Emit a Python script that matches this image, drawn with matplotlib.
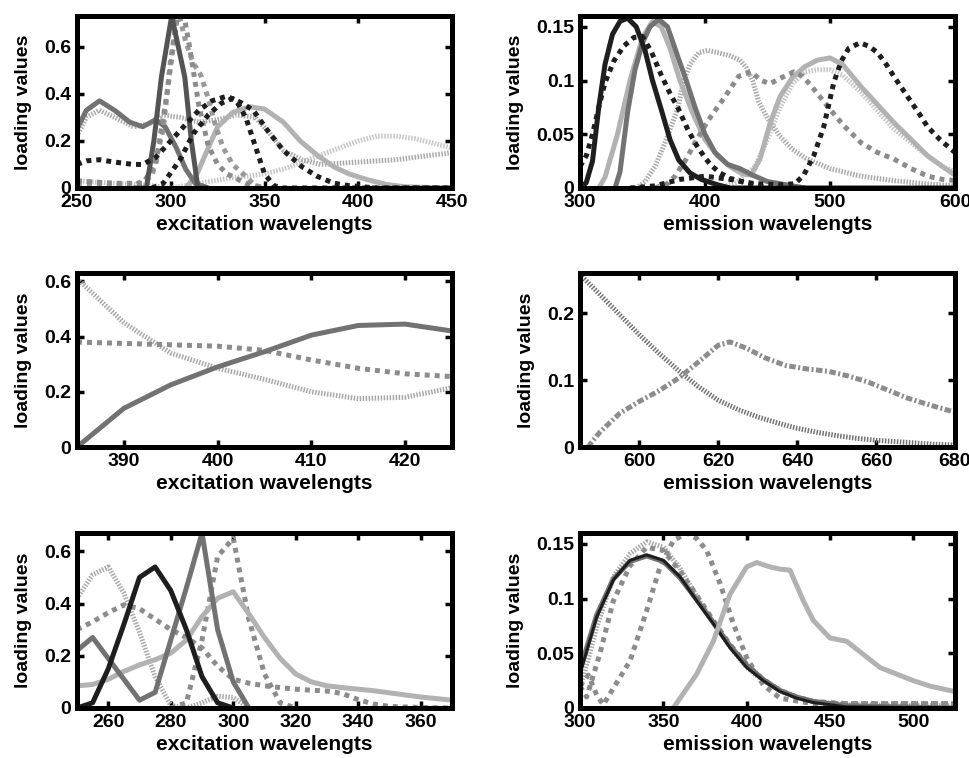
import matplotlib.pyplot as plt
from matplotlib.ticker import FuncFormatter

plt.rcParams['font.family'] = ['Liberation Sans', 'DejaVu Sans']
plt.rcParams['font.weight'] = 'bold'
plt.rcParams['font.size'] = 14

# --- excitation loadings, model 1 (250-450 nm) ---
ex1_a_wl = [250, 255, 262, 270, 278, 285, 292, 297, 303, 308, 313, 320]
ex1_a = [0.25, 0.33, 0.37, 0.33, 0.28, 0.26, 0.29, 0.26, 0.17, 0.08, 0.02, 0.0]
ex1_b_wl = [250, 255, 262, 270, 280, 288, 295, 305, 315, 325, 335, 345, 352, 360, 370, 380, 400, 420, 440, 450]
ex1_b = [0.22, 0.30, 0.33, 0.30, 0.26, 0.27, 0.31, 0.30, 0.28, 0.29, 0.31, 0.30, 0.24, 0.16, 0.12, 0.10, 0.11, 0.12, 0.14, 0.15]
ex1_c_wl = [250, 270, 290, 300, 315, 330, 340, 350, 360, 370, 380, 390, 400, 410, 420, 430, 440, 450]
ex1_c = [0.03, 0.02, 0.01, 0.0, 0.02, 0.04, 0.05, 0.06, 0.08, 0.11, 0.14, 0.17, 0.20, 0.22, 0.22, 0.21, 0.19, 0.17]
ex1_d_wl = [280, 287, 291, 295, 300.5, 304, 307.5, 311, 314.5, 320]
ex1_d = [0.0, 0.0, 0.2, 0.47, 0.73, 0.6, 0.47, 0.2, 0.0, 0.0]
ex1_e_wl = [250, 270, 285, 292, 298, 303, 306, 310, 315, 320, 325, 330, 340, 350]
ex1_e = [0.03, 0.02, 0.02, 0.1, 0.4, 0.7, 0.78, 0.6, 0.35, 0.18, 0.1, 0.06, 0.02, 0.0]
ex1_f_wl = [250, 280, 290, 296, 300, 304, 308, 312, 316, 320, 324, 328, 333, 340, 345, 350]
ex1_f = [0.02, 0.01, 0.05, 0.25, 0.55, 0.75, 0.62, 0.53, 0.48, 0.38, 0.26, 0.17, 0.1, 0.05, 0.01, 0.0]
ex1_g_wl = [250, 255, 262, 270, 280, 285, 292, 300, 308, 315, 322, 330, 335, 340, 345, 350, 355, 360, 450]
ex1_g = [0.1, 0.115, 0.12, 0.11, 0.1, 0.1, 0.13, 0.2, 0.27, 0.33, 0.37, 0.39, 0.37, 0.3, 0.18, 0.06, 0.01, 0.0, 0.0]
ex1_h_wl = [290, 296, 305, 312, 320, 327, 333, 338, 344, 352, 360, 370, 378, 387, 395, 410, 450]
ex1_h = [0.0, 0.02, 0.12, 0.23, 0.31, 0.36, 0.38, 0.36, 0.33, 0.24, 0.16, 0.09, 0.05, 0.02, 0.01, 0.0, 0.0]
ex1_i_wl = [308, 314, 320, 325, 333, 342, 350, 360, 369, 378, 387, 395, 405, 415, 425, 450]
ex1_i = [0.0, 0.06, 0.17, 0.26, 0.32, 0.345, 0.335, 0.28, 0.2, 0.14, 0.09, 0.06, 0.035, 0.015, 0.005, 0.0]

# --- emission loadings, model 1 (300-600 nm) ---
em1_a_wl = [300, 305, 310, 315, 320, 326, 332, 338, 345, 352, 358, 365, 372, 379, 388, 397, 410, 420, 600]
em1_a = [0.0, 0.005, 0.025, 0.075, 0.115, 0.143, 0.155, 0.158, 0.15, 0.128, 0.1, 0.073, 0.045, 0.026, 0.014, 0.008, 0.003, 0.0, 0.0]
em1_b_wl = [328, 332, 338, 344, 350, 356, 363, 370, 378, 385, 392, 400, 408, 418, 428, 438, 450, 470, 480]
em1_b = [0.0, 0.015, 0.07, 0.11, 0.135, 0.15, 0.157, 0.15, 0.123, 0.1, 0.075, 0.05, 0.033, 0.022, 0.018, 0.012, 0.006, 0.002, 0.0]
em1_c_wl = [315, 320, 330, 340, 350, 358, 365, 372, 380, 390, 400, 410, 420, 430, 437, 444, 452, 460, 470,
            480, 490, 500, 510, 525, 540, 551, 565, 578, 590, 600]
em1_c = [0.0, 0.01, 0.05, 0.1, 0.14, 0.155, 0.15, 0.13, 0.1, 0.07, 0.045, 0.03, 0.02, 0.013, 0.012, 0.027, 0.06,
         0.085, 0.103, 0.113, 0.119, 0.121, 0.115, 0.094, 0.075, 0.061, 0.045, 0.03, 0.02, 0.012]
em1_d_wl = [300, 305, 310, 315, 320, 327, 335, 343, 350, 357, 365, 372, 379, 386, 392, 400, 405, 412, 420, 435, 450]
em1_d = [0.02, 0.03, 0.05, 0.075, 0.098, 0.118, 0.132, 0.14, 0.141, 0.127, 0.105, 0.088, 0.073, 0.055, 0.042,
         0.028, 0.021, 0.014, 0.009, 0.004, 0.0]
em1_e_wl = [340, 360, 380, 400, 420, 440, 460, 472, 479, 487, 495, 503, 509, 515, 524, 531, 538, 545, 551, 558,
            565, 572, 578, 588, 597, 600]
em1_e = [0.0, 0.002, 0.008, 0.011, 0.008, 0.004, 0.003, 0.004, 0.012, 0.03, 0.057, 0.098, 0.118, 0.13, 0.135,
         0.132, 0.126, 0.115, 0.104, 0.092, 0.08, 0.068, 0.057, 0.045, 0.036, 0.033]
em1_f_wl = [360, 370, 376, 384, 392, 400, 405, 416, 427, 437, 445, 452, 460, 471, 478, 485, 498, 511, 525, 538,
            551, 565, 578, 590, 600]
em1_f = [0.0, 0.004, 0.011, 0.025, 0.042, 0.058, 0.067, 0.085, 0.104, 0.108, 0.1, 0.097, 0.102, 0.108, 0.104,
         0.095, 0.076, 0.058, 0.042, 0.033, 0.027, 0.018, 0.011, 0.008, 0.007]
em1_g_wl = [345, 352, 360, 368, 378, 383, 388, 395, 402, 410, 420, 428, 433, 438, 443, 450, 460, 470, 480, 500,
            525, 550, 575, 600]
em1_g = [0.0, 0.006, 0.02, 0.042, 0.073, 0.1, 0.115, 0.126, 0.128, 0.126, 0.123, 0.119, 0.112, 0.1, 0.08, 0.065,
         0.048, 0.036, 0.028, 0.018, 0.011, 0.007, 0.004, 0.002]
em1_h_wl = [410, 425, 440, 450, 460, 470, 480, 490, 500, 510, 525, 538, 551, 565, 578, 590, 600]
em1_h = [0.0, 0.005, 0.02, 0.045, 0.075, 0.097, 0.108, 0.11, 0.11, 0.105, 0.089, 0.072, 0.055, 0.042, 0.03,
         0.02, 0.015]

# --- excitation / emission loadings, model 2 ---
ex2_wl = [385, 390, 395, 400, 405, 410, 415, 420, 425]
ex2_a = [0.0, 0.14, 0.225, 0.29, 0.345, 0.405, 0.44, 0.445, 0.42]
ex2_b = [0.38, 0.375, 0.37, 0.365, 0.35, 0.315, 0.285, 0.265, 0.255]
ex2_c = [0.61, 0.45, 0.34, 0.285, 0.245, 0.2, 0.175, 0.18, 0.215]

em2_a_wl = [585, 590, 595, 600, 605, 610, 615, 620, 625, 630, 635, 640, 645, 650, 655, 660, 665, 670, 675, 680]
em2_a = [0.258, 0.228, 0.198, 0.168, 0.14, 0.114, 0.09, 0.07, 0.056, 0.045, 0.036, 0.028, 0.022, 0.017, 0.013,
         0.01, 0.008, 0.006, 0.004, 0.003]
em2_b_wl = [587, 590, 595, 600, 605, 610, 615, 620, 623, 627, 632, 637, 642, 648, 653, 658, 663, 668, 674, 680]
em2_b = [0.0, 0.022, 0.05, 0.068, 0.084, 0.103, 0.127, 0.152, 0.157, 0.148, 0.133, 0.122, 0.117, 0.113, 0.106,
         0.097, 0.085, 0.073, 0.062, 0.052]

# --- excitation loadings, model 3 (250-370 nm) ---
ex3_a_wl = [250, 255, 260, 265, 270, 275, 280, 285, 290, 295, 300]
ex3_a = [0.0, 0.02, 0.15, 0.32, 0.5, 0.54, 0.45, 0.3, 0.12, 0.02, 0.0]
ex3_b_wl = [250, 255, 260, 265, 270, 275, 280, 285, 290, 295, 300, 305]
ex3_b = [0.22, 0.27, 0.19, 0.11, 0.03, 0.06, 0.26, 0.46, 0.67, 0.3, 0.1, 0.0]
ex3_c_wl = [250, 255, 260, 265, 270, 275, 280, 285, 290, 295, 300, 305, 310, 315, 320, 325, 330, 335, 340, 345,
            350, 355, 360, 365, 370]
ex3_c = [0.085, 0.09, 0.11, 0.14, 0.165, 0.185, 0.21, 0.26, 0.35, 0.42, 0.445, 0.36, 0.27, 0.19, 0.13, 0.1, 0.085,
         0.078, 0.072, 0.066, 0.058, 0.05, 0.042, 0.036, 0.03]
ex3_d_wl = [250, 255, 260, 265, 270, 275, 280, 285, 290, 295, 300, 305, 310, 315, 320, 325, 330, 335, 340, 345,
            350, 360, 370]
ex3_d = [0.3, 0.33, 0.365, 0.395, 0.38, 0.34, 0.3, 0.27, 0.23, 0.16, 0.11, 0.095, 0.085, 0.078, 0.072, 0.068,
         0.065, 0.055, 0.032, 0.015, 0.006, 0.002, 0.0]
ex3_e_wl = [280, 285, 290, 295, 300, 305, 310, 315, 320]
ex3_e = [0.0, 0.02, 0.26, 0.58, 0.65, 0.34, 0.13, 0.02, 0.0]
ex3_f_wl = [250, 255, 260, 265, 270, 275, 280, 285, 290, 295, 300, 305]
ex3_f = [0.42, 0.51, 0.54, 0.44, 0.29, 0.12, 0.01, 0.0, 0.02, 0.045, 0.04, 0.0]

# --- emission loadings, model 3 (300-525 nm) ---
em3_ab_wl = [300, 310, 320, 330, 340, 350, 360, 370, 380, 390, 400, 410, 420, 430, 440, 460, 525]
em3_a = [0.031, 0.083, 0.117, 0.135, 0.14, 0.135, 0.12, 0.098, 0.077, 0.055, 0.037, 0.025, 0.015, 0.009, 0.005,
         0.001, 0.0]
em3_b = [0.035, 0.085, 0.118, 0.134, 0.139, 0.134, 0.119, 0.099, 0.078, 0.057, 0.039, 0.026, 0.016, 0.01, 0.006,
         0.002, 0.0]
em3_c_wl = [300, 305, 310, 320, 330, 340, 350, 360, 370, 380, 390, 400, 410, 420, 430, 440, 460, 525]
em3_c = [0.018, 0.045, 0.074, 0.12, 0.141, 0.152, 0.147, 0.128, 0.102, 0.078, 0.056, 0.037, 0.025, 0.016, 0.01,
         0.006, 0.003, 0.002]
em3_d_wl = [300, 304, 308, 312, 320, 330, 340, 350, 360, 370, 380, 390, 400, 410, 420, 430, 440, 460, 525]
em3_d = [0.02, 0.01, 0.03, 0.05, 0.098, 0.13, 0.147, 0.144, 0.125, 0.103, 0.08, 0.058, 0.04, 0.026, 0.016, 0.01,
         0.006, 0.004, 0.004]
em3_e_wl = [300, 305, 310, 314, 320, 330, 340, 348, 356, 364, 370, 376, 384, 392, 400, 410, 420, 440, 525]
em3_e = [0.02, 0.03, 0.012, 0.003, 0.018, 0.043, 0.089, 0.129, 0.153, 0.16, 0.155, 0.144, 0.114, 0.077, 0.046,
         0.021, 0.009, 0.004, 0.004]
em3_f_wl = [356, 370, 380, 390, 400, 406, 414, 420, 426, 434, 440, 450, 460, 470, 480, 490, 500, 510, 525]
em3_f = [0.0, 0.031, 0.061, 0.104, 0.129, 0.133, 0.129, 0.127, 0.126, 0.098, 0.08, 0.064, 0.061, 0.049, 0.037,
         0.031, 0.025, 0.02, 0.015]

# dash patterns, in units of the line width
SOLID = '-'
DOT = (0, (1, 1))
HATCH = (0, (0.3, 0.3))
DASHDOT = (0, (1.3, 0.5, 0.4, 0.5))

BLACK = '#1e1e1e'
DARK = '#545454'
MID = '#727272'
GREY = '#8c8c8c'
LIGHT = '#b2b2b2'
PALE = '#a8a8a8'
PALER = '#c4c4c4'

LW = 3.6


def line(ax, x, y, color, ls):
    ax.plot(x, y, color=color, linestyle=ls, linewidth=LW, solid_capstyle='butt', dash_capstyle='butt')


def style(ax, xlim, ylim, xticks, yticks, xlabel):
    ax.set_xlim(xlim)
    ax.set_ylim(ylim)
    ax.set_xticks(xticks)
    ax.set_yticks(yticks)
    fmt = FuncFormatter(lambda v, p: '%g' % v)
    ax.xaxis.set_major_formatter(fmt)
    ax.yaxis.set_major_formatter(fmt)
    ax.tick_params(direction='in', top=True, right=True, length=5, width=2.5, pad=4, labelsize=14)
    for s in ax.spines.values():
        s.set_linewidth(3.6)
        s.set_color('black')
    ax.set_xlabel(xlabel, fontsize=15, fontweight='bold', labelpad=3)
    ax.set_ylabel('loading values', fontsize=14, fontweight='bold', labelpad=9)


fig = plt.figure(figsize=(9.69, 7.58), dpi=100)
L, R = 77 / 969, 580 / 969
W = 375 / 969
rows = [(1 - 188 / 758, 172 / 758), (1 - 447 / 758, 174 / 758), (1 - 708 / 758, 175 / 758)]

# row 1
ax = fig.add_axes([L, rows[0][0], W, rows[0][1]])
line(ax, ex1_c_wl, ex1_c, PALER, HATCH)
line(ax, ex1_b_wl, ex1_b, PALE, HATCH)
line(ax, ex1_i_wl, ex1_i, LIGHT, SOLID)
line(ax, ex1_a_wl, ex1_a, MID, SOLID)
line(ax, ex1_f_wl, ex1_f, '#9a9a9a', DOT)
line(ax, ex1_e_wl, ex1_e, GREY, DOT)
line(ax, ex1_d_wl, ex1_d, DARK, SOLID)
line(ax, ex1_h_wl, ex1_h, BLACK, DOT)
line(ax, ex1_g_wl, ex1_g, BLACK, DOT)
style(ax, (250, 450), (0, 0.73), [250, 300, 350, 400, 450], [0, 0.2, 0.4, 0.6], 'excitation wavelengts')

ax = fig.add_axes([R, rows[0][0], W, rows[0][1]])
line(ax, em1_h_wl, em1_h, PALER, HATCH)
line(ax, em1_g_wl, em1_g, PALE, HATCH)
line(ax, em1_c_wl, em1_c, LIGHT, SOLID)
line(ax, em1_f_wl, em1_f, GREY, DOT)
line(ax, em1_b_wl, em1_b, MID, SOLID)
line(ax, em1_a_wl, em1_a, BLACK, SOLID)
line(ax, em1_d_wl, em1_d, BLACK, DOT)
line(ax, em1_e_wl, em1_e, BLACK, DOT)
style(ax, (300, 600), (0, 0.16), [300, 400, 500, 600], [0, 0.05, 0.1, 0.15], 'emission wavelengts')

# row 2
ax = fig.add_axes([L, rows[1][0], W, rows[1][1]])
line(ax, ex2_wl, ex2_c, PALE, HATCH)
line(ax, ex2_wl, ex2_b, GREY, DOT)
line(ax, ex2_wl, ex2_a, MID, SOLID)
style(ax, (385, 425), (0, 0.63), [390, 400, 410, 420], [0, 0.2, 0.4, 0.6], 'excitation wavelengts')

ax = fig.add_axes([R, rows[1][0], W, rows[1][1]])
line(ax, em2_a_wl, em2_a, MID, HATCH)
line(ax, em2_b_wl, em2_b, GREY, DASHDOT)
style(ax, (585, 680), (0, 0.26), [600, 620, 640, 660, 680], [0, 0.1, 0.2], 'emission wavelengts')

# row 3
ax = fig.add_axes([L, rows[2][0], W, rows[2][1]])
line(ax, ex3_f_wl, ex3_f, PALE, HATCH)
line(ax, ex3_d_wl, ex3_d, GREY, DOT)
line(ax, ex3_e_wl, ex3_e, GREY, DOT)
line(ax, ex3_c_wl, ex3_c, LIGHT, SOLID)
line(ax, ex3_b_wl, ex3_b, MID, SOLID)
line(ax, ex3_a_wl, ex3_a, BLACK, SOLID)
style(ax, (250, 370), (0, 0.67), [260, 280, 300, 320, 340, 360], [0, 0.2, 0.4, 0.6], 'excitation wavelengts')

ax = fig.add_axes([R, rows[2][0], W, rows[2][1]])
line(ax, em3_c_wl, em3_c, PALE, HATCH)
line(ax, em3_d_wl, em3_d, GREY, DOT)
line(ax, em3_e_wl, em3_e, GREY, DOT)
line(ax, em3_ab_wl, em3_b, MID, SOLID)
ax.plot(em3_ab_wl, em3_a, color=BLACK, linewidth=2.2)
line(ax, em3_f_wl, em3_f, LIGHT, SOLID)
style(ax, (300, 525), (0, 0.16), [300, 350, 400, 450, 500], [0, 0.05, 0.1, 0.15], 'emission wavelengts')

fig.savefig('out.png', dpi=100)
